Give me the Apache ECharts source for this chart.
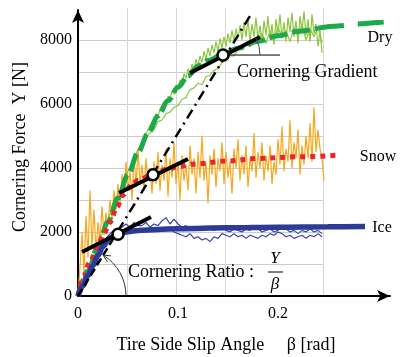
<!DOCTYPE html>
<html><head><meta charset="utf-8">
<script src="https://cdn.jsdelivr.net/npm/echarts@6/dist/echarts.min.js"></script>
<style>html,body{margin:0;padding:0;background:#fff}#c{width:400px;height:357px}</style>
</head><body><div id="c"></div>
<script>
const FONT = "'Liberation Serif', 'DejaVu Serif', serif";
const xTicks = [0, 0.1, 0.2];
const yTicks = [0, 2000, 4000, 6000, 8000];

// fitted curves [beta, Y]
const dryFit = [[0,0],[0.01,780],[0.02,1560],[0.03,2320],[0.04,3060],[0.05,3800],[0.06,4480],[0.07,5080],[0.08,5620],[0.09,6100],[0.1,6520],[0.11,6880],[0.12,7180],[0.13,7360],[0.145,7560],[0.16,7740],[0.18,7960],[0.2,8130],[0.22,8270],[0.24,8370]];
const dryFitTail = [[0.24,8370],[0.26,8440],[0.28,8500],[0.3,8550],[0.31,8570]];
const snowFit = [[0,0],[0.005,600],[0.012,1060],[0.019,1500],[0.025,1900],[0.032,2310],[0.039,2780],[0.045,3150],[0.052,3420],[0.06,3620],[0.075,3800],[0.09,3970],[0.1,4040],[0.115,4120],[0.15,4220],[0.18,4300],[0.22,4350],[0.26,4400]];
const iceFit = [[0,0],[0.005,320],[0.01,640],[0.015,960],[0.02,1270],[0.025,1550],[0.03,1740],[0.035,1860],[0.04,1930],[0.045,1980],[0.05,2010],[0.06,2050],[0.08,2080],[0.1,2100],[0.15,2130],[0.2,2150],[0.25,2165],[0.287,2170]];

// measured signals (sampled every step, starting at start)
const dryA_start = 0.012, dryA_step = 0.002;
const dryA = [900,1150,1200,1450,1500,1800,1750,2050,2100,2400,2350,2700,2650,3000,2950,3300,3250,3600,3550,3900,3850,4150,4100,4450,4400,4700,4650,4950,4900,5200,5150,5450,5350,5700,5600,5850,5800,6050,5950,6250,6150,6400,6300,6600,6500,6750,6650,6950,6800,7100,6950,7250,7050,7400,7200,7500,7300,7650,7400,7750,7500,7850,7600,7950,7650,8050,7750,8100,7800,8200,7900,8300,7950,8350,8050,8450,8000,8550,8100,8650,7950,8500,8100,8700,8000,8450,7900,8600,8150,8750,8000,8500,7850,8650,8200,8800,8050,8550,7950,8700,8250,8850,8100,8600,7900,8750,8300,8900,8150,8650,7950,8800,8200,8500,7800,8300,7600];
const dryB_start = 0.056, dryB_step = 0.004;
const dryB = [4300,4550,4700,4950,5100,5200,5450,5500,5700,5750,5900,5950,6150,6200,6450,6500,6650,6600,6850,6900,7050,7100,7300,7350,7500,7500,7700,7700,7850,7800,8000,7950,8200,7900,8300,8000,8400,8100,8300,7950,8400,8100,8500,8000,8350,8100,8400,7900];
const snowM_start = 0, snowM_step = 0.002;
const snowM = [0,900,2000,700,2500,1200,3300,1500,2700,1400,2300,1700,2800,1900,2600,2200,3000,2400,3300,2700,3500,2900,3800,3100,4200,3300,3900,3000,4400,3400,4600,3500,4100,3300,4300,3600,4000,3200,4200,3500,4500,3300,4100,3600,4600,3100,4300,3700,4800,3500,4200,3000,4400,3600,4100,3300,4700,3800,4300,3200,4500,3700,5000,3600,4200,2900,4400,3800,4600,3400,4300,3900,4800,3500,4500,3700,4200,3200,4600,4000,4900,3600,4400,3800,4700,3400,4300,3900,5100,3700,4500,4000,4800,3600,4400,3900,4700,3500,4200,3800,4900,4100,5300,3900,4600,4200,5500,4000,4800,4300,5200,3800,4700,4100,5000,4300,5400,4200,5900,4500,5200,4600,4300,3600];
const iceA_start = 0, iceA_step = 0.004;
const iceA = [0,250,600,900,1150,1450,1650,1800,1950,2050,2100,2150,2250,2150,2300,2200,2200,2300,2150,2250,2200,2350,2450,2250,2400,2250,2150,2200,2100,2150,2100,2050,2150,2100,2050,2100,2150,2050,2000,2100,2050,2000,2100,2050,2150,2100,2000,2050,2100,2000,2050,2150,2100,2000,2050,1950,2050,2000,2100,2000,2050,1950];
const iceB_start = 0.092, iceB_step = 0.004;
const iceB = [2100,2000,1950,1900,1850,1950,1800,1850,1750,1800,1700,1850,1800,1950,1900,1850,1950,1850,1900,1800,1900,1850,1800,1900,1850,1950,1900,2000,1950,1850,1900,1800,1850,1900,1800,1900,1850,1950,1850];

// characteristic points, tangents, secant
const points = [[0.04,1930],[0.075,3790],[0.145,7530]];
const iceTangent = [[0.004,1375],[0.073,2469]];
const snowTangent = [[0.041,3219],[0.110,4281]];
const dryTangent = [[0.112,6969],[0.182,8094]];
const secantNear = [[0,0],[0.04,2035]];
const secantFar = [[0.04,2035],[0.172,8750]];
const gradientRef = [[0.145,7530],[0.202,7530]];

function pairs(start, step, ys){ return ys.map((y,i)=>[+(start+i*step).toFixed(4), y]); }
function line(data, color, width, type, z, smooth){
  return {type:'line', data, xAxisIndex:0, yAxisIndex:0, showSymbol:false, symbol:'none', silent:true, z:z||2,
    smooth: smooth?0.35:false, smoothMonotone: smooth?'x':undefined,
    lineStyle:{color, width, type: type||'solid', cap:'butt'}};
}
const chart = echarts.init(document.getElementById('c'), null, {renderer:'canvas'});
const tickFmt = ticks => v => { const t = ticks.find(t=>Math.abs(t-v)<1e-6); return t===undefined?'':String(t); };
const T = 'rgba(0,0,0,0)';
chart.setOption({
  animation:false,
  textStyle:{fontFamily:FONT},
  grid:[{left:78,right:10,top:10,bottom:61,containLabel:false},{left:78,right:77,top:8,bottom:61}],
  xAxis:[
    {type:'value',gridIndex:0,min:0,max:0.312,interval:0.1,
     axisLine:{show:true,lineStyle:{color:'#000',width:2},symbol:['none','arrow'],symbolSize:[9,13]},
     axisTick:{show:false},splitLine:{show:false},
     axisLabel:{formatter:tickFmt(xTicks),color:'#000',fontFamily:FONT,fontSize:16,margin:10,showMaxLabel:false}},
    {type:'value',gridIndex:1,min:0,max:0.245,interval:0.049,axisLine:{show:false},axisTick:{show:false},axisLabel:{show:false},
     splitLine:{show:true,lineStyle:{color:[T,'#d6d6d6','#d6d6d6','#d6d6d6',T,'#d6d6d6'],width:1}}}
  ],
  yAxis:[
    {type:'value',gridIndex:0,min:0,max:8937.5,interval:2000,
     axisLine:{show:true,lineStyle:{color:'#000',width:2},symbol:['none','arrow'],symbolSize:[9,13]},
     axisTick:{show:false},splitLine:{show:false},
     axisLabel:{formatter:tickFmt(yTicks),color:'#000',fontFamily:FONT,fontSize:16,margin:6,showMaxLabel:false}},
    {type:'value',gridIndex:1,min:0,max:9000,interval:1000,axisLine:{show:false},axisTick:{show:false},axisLabel:{show:false},
     splitLine:{show:true,lineStyle:{color:[T,'#cccccc','#cccccc','#cccccc','#cccccc','#cccccc','#cccccc','#cccccc','#cccccc',T],width:1}}}
  ],
  series:[
    line(pairs(dryB_start,dryB_step,dryB),'#8cc63f',1.2,'solid',2),
    line(pairs(dryA_start,dryA_step,dryA),'#8cc63f',1.2,'solid',2),
    line(pairs(snowM_start,snowM_step,snowM),'#f7a81b',1.2,'solid',2),
    line(pairs(iceA_start,iceA_step,iceA),'#3546a8',1.2,'solid',2),
    line(pairs(iceB_start,iceB_step,iceB),'#3546a8',1.2,'solid',2),
    line(dryFit,'#1da84a',5,[18,5],3,true),
    line(dryFitTail,'#1da84a',5,[26,14],3,true),
    line(snowFit,'#e8262d',5,[5,5],3,true),
    line(iceFit,'#2b3b97',5.5,'solid',3,true),
    line(secantNear,'#000',2.5,[8,4],4),
    line(secantFar,'#000',2.5,[10,5,2,5],4),
    line(iceTangent,'#000',4,'solid',5),
    line(snowTangent,'#000',4,'solid',5),
    line(dryTangent,'#000',4,'solid',5),
    line(gradientRef,'#000',1,'solid',5),
    {type:'scatter',data:points,xAxisIndex:0,yAxisIndex:0,symbol:'circle',symbolSize:11,silent:true,z:6,
     itemStyle:{color:'#ffffff',opacity:1,borderColor:'#000',borderWidth:2.5}}
  ]
});

const px = p => chart.convertToPixel({gridIndex:0}, p);
const o = px([0,0]);
const sEnd = px(secantFar[1]);
const th = Math.atan2(o[1]-sEnd[1], sEnd[0]-o[0]);
const R = 48;
const tip = [o[0]+R*Math.cos(th), o[1]-R*Math.sin(th)];
const u = [-Math.sin(th), -Math.cos(th)];
function rot(v,a){return [v[0]*Math.cos(a)-v[1]*Math.sin(a), v[0]*Math.sin(a)+v[1]*Math.cos(a)];}
const w1 = rot(u,0.45), w2 = rot(u,-0.45), L=8;
const dc = px(points[2]);
const t0 = px(dryTangent[0]), t1 = px(dryTangent[1]);
const gth = Math.atan2(t0[1]-t1[1], t1[0]-t0[0]);
const txt = (text,x,y,size,extra) => Object.assign({type:'text',x,y,z:20,silent:true,
  style:Object.assign({text,font:(size||16)+'px '+FONT,fill:'#000',textAlign:'left',align:'left',textVerticalAlign:'middle',verticalAlign:'middle'},extra||{})});
chart.setOption({graphic:[
  {type:'arc',z:10,silent:true,shape:{cx:o[0],cy:o[1],r:R,startAngle:-th,endAngle:0,clockwise:true},style:{stroke:'#333',fill:null,lineWidth:1}},
  {type:'polyline',z:10,silent:true,shape:{points:[[tip[0]-L*w1[0],tip[1]-L*w1[1]],tip,[tip[0]-L*w2[0],tip[1]-L*w2[1]]]},style:{stroke:'#333',fill:null,lineWidth:1}},
  {type:'arc',z:10,silent:true,shape:{cx:dc[0],cy:dc[1],r:37,startAngle:-gth,endAngle:0,clockwise:true},style:{stroke:'#444',fill:null,lineWidth:1}},
  txt('Cornering Gradient',237,72,18),
  txt('Cornering Ratio :',128,272,18),
  txt('Y',275,259,17,{font:'italic 17px '+FONT,textAlign:'center',align:'center'}),
  {type:'line',z:10,silent:true,shape:{x1:268,y1:272,x2:283,y2:272},style:{stroke:'#000',lineWidth:1}},
  txt('β',275,285,17,{font:'italic 17px '+FONT,textAlign:'center',align:'center'}),
  txt('Dry',380,38,16,{textAlign:'center',align:'center'}),
  txt('Snow',378,157,16,{textAlign:'center',align:'center'}),
  txt('Ice',382,228,16,{textAlign:'center',align:'center'}),
  txt('Tire Side Slip Angle     β [rad]',226,345,18,{textAlign:'center',align:'center'}),
  Object.assign(txt('Cornering Force  Y [N]',20,147,18,{textAlign:'center',align:'center'}),{rotation:Math.PI/2})
]});
</script></body></html>
